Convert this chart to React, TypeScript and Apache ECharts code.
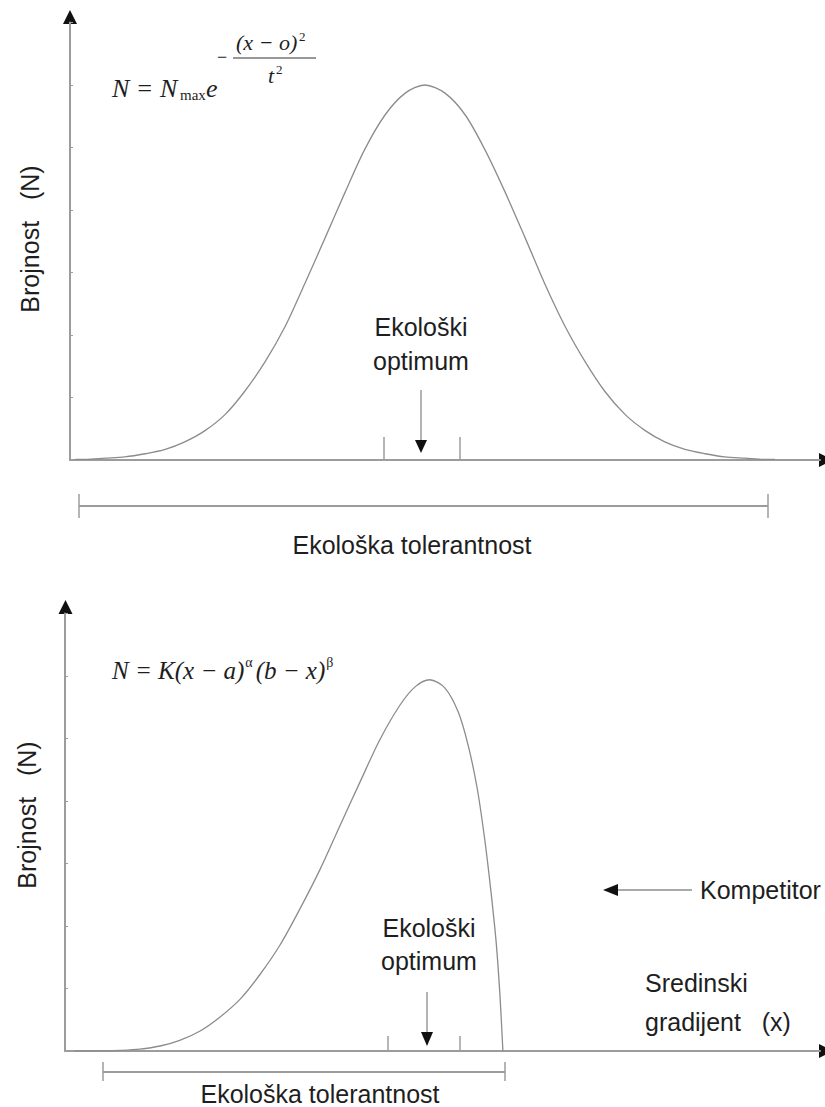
import React, { useEffect, useRef } from "react";
import * as echarts from "echarts";

// Top panel: Gaussian response along the gradient (x in gradient units, N in tick units)
const gradTop = [0.07, 0.2, 0.47, 0.73, 1.0, 1.27, 1.53, 1.8, 2.07, 2.33, 2.6, 2.87, 3.13, 3.4, 3.67, 3.93, 4.2, 4.47, 4.73, 5.0, 5.27, 5.53, 5.8, 6.07, 6.33, 6.6, 6.87, 7.13, 7.4, 7.67, 7.93, 8.2, 8.47, 8.73, 9.0, 9.27, 9.4];
const abundTop = [0.01, 0.01, 0.03, 0.05, 0.1, 0.17, 0.29, 0.47, 0.73, 1.1, 1.57, 2.14, 2.82, 3.55, 4.29, 4.97, 5.52, 5.87, 6.0, 5.87, 5.52, 4.97, 4.29, 3.55, 2.82, 2.14, 1.57, 1.1, 0.73, 0.47, 0.29, 0.17, 0.1, 0.05, 0.03, 0.01, 0.01];

// Bottom panel: skewed response truncated by the competitor
const gradBottom = [0.13, 0.2, 0.46, 0.73, 0.99, 1.26, 1.52, 1.79, 2.05, 2.32, 2.58, 2.85, 3.11, 3.38, 3.64, 3.91, 4.17, 4.44, 4.64, 4.83, 5.03, 5.21, 5.34, 5.46, 5.56, 5.64, 5.71, 5.76, 5.8];
const abundBottom = [0, 0, 0, 0.01, 0.03, 0.08, 0.17, 0.32, 0.54, 0.83, 1.22, 1.7, 2.27, 2.91, 3.6, 4.31, 4.98, 5.54, 5.83, 5.94, 5.81, 5.42, 4.89, 4.2, 3.38, 2.57, 1.75, 0.91, 0];

const yAxisMax = 7;
const xAxisMax = 10;

const yLabel = "Brojnost   (N)";
const optimumLines = ["Ekološki", "optimum"];
const toleranceLabel = "Ekološka tolerantnost";
const competitorLabel = "Kompetitor";
const gradientLines = ["Sredinski", "gradijent   (x)"];

export default function App() {
  const ref = useRef<HTMLDivElement>(null);
  useEffect(() => {
    const chart = echarts.init(ref.current!, null, { renderer: "svg" });
    const axisColor = "#9c9c9c";
    const curveColor = "#8c8c8c";
    const ink = "#1e1e1e";
    const sans = "'Liberation Sans', Arial, Helvetica, sans-serif";
    const serif = "'Liberation Serif', 'Times New Roman', serif";

    const line = (x1: number, y1: number, x2: number, y2: number, color = axisColor, w = 1.5) => ({
      type: "line",
      shape: { x1, y1, x2, y2 },
      style: { stroke: color, lineWidth: w },
      silent: true,
    });
    const tri = (pts: number[][]) => ({
      type: "polygon",
      shape: { points: pts },
      style: { fill: "#111" },
      silent: true,
    });
    const txt = (text: string, x: number, y: number, opts: any = {}) => ({
      type: "text",
      x,
      y,
      rotation: opts.rotation || 0,
      style: {
        text,
        fill: ink,
        font: opts.font || `25px ${sans}`,
        align: opts.align || "center",
        verticalAlign: "middle",
        rich: opts.rich,
      },
      silent: true,
    });

    const xAxisBase = {
      type: "value",
      min: 0,
      max: xAxisMax,
      axisLine: { show: true, onZero: false, lineStyle: { color: axisColor, width: 2 } },
      axisTick: { show: false },
      axisLabel: { show: false },
      splitLine: { show: false },
    };
    const yAxisBase = {
      type: "value",
      min: 0,
      max: yAxisMax,
      interval: 1,
      axisLine: { show: true, onZero: false, lineStyle: { color: axisColor, width: 2 } },
      axisTick: { show: true, inside: true, length: 3, lineStyle: { color: axisColor, width: 1 } },
      axisLabel: { show: false },
      splitLine: { show: false },
    };

    chart.setOption({
      animation: false,
      backgroundColor: "#ffffff",
      grid: [
        { left: 70, top: 22.5, width: 750, height: 437.5 },
        { left: 65, top: 613.5, width: 755, height: 437.5 },
      ],
      xAxis: [
        { ...xAxisBase, gridIndex: 0 },
        { ...xAxisBase, gridIndex: 1 },
      ],
      yAxis: [
        { ...yAxisBase, gridIndex: 0 },
        { ...yAxisBase, gridIndex: 1 },
      ],
      series: [
        {
          type: "line",
          xAxisIndex: 0,
          yAxisIndex: 0,
          data: gradTop.map((g, i) => [g, abundTop[i]]),
          smooth: 0.3,
          showSymbol: false,
          lineStyle: { color: curveColor, width: 1.3 },
          silent: true,
        },
        {
          type: "line",
          xAxisIndex: 1,
          yAxisIndex: 1,
          data: gradBottom.map((g, i) => [g, abundBottom[i]]),
          smooth: 0.3,
          showSymbol: false,
          lineStyle: { color: curveColor, width: 1.3 },
          silent: true,
        },
      ],
      graphic: [
        // axis arrowheads
        tri([[63, 24], [77, 24], [70, 10]]),
        tri([[819, 453], [819, 467], [833, 460]]),
        tri([[58.5, 614], [72.5, 614], [65.5, 600]]),
        tri([[819, 1044], [819, 1058], [833, 1051]]),

        // top: optimum markers
        line(384, 437, 384, 460),
        line(460, 437, 460, 460),
        line(421, 390, 421, 442, "#8c8c8c", 1.3),
        tri([[415, 440], [427, 440], [421, 453]]),
        txt(optimumLines[0], 421, 327),
        txt(optimumLines[1], 421, 361),

        // top: tolerance bracket
        line(79, 506, 768, 506, axisColor, 2),
        line(79, 494, 79, 518),
        line(768, 494, 768, 518),
        txt(toleranceLabel, 412, 545),

        // y labels
        txt(yLabel, 29.5, 239, { rotation: Math.PI / 2 }),
        txt(yLabel, 27, 815, { rotation: Math.PI / 2 }),

        // top formula
        txt("N = N", 112, 88, { align: "left", font: `italic 26px ${serif}` }),
        txt("max", 180, 95, { align: "left", font: `15px ${serif}` }),
        txt("e", 206, 88, { align: "left", font: `italic 26px ${serif}` }),
        txt("−", 217, 57, { align: "left", font: `18px ${serif}` }),
        line(233, 58, 316, 58, "#333", 1),
        txt("(x − o)", 236, 42, { align: "left", font: `italic 22px ${serif}` }),
        txt("2", 299, 36, { align: "left", font: `13px ${serif}` }),
        txt("t", 268, 75, { align: "left", font: `italic 22px ${serif}` }),
        txt("2", 276, 69, { align: "left", font: `13px ${serif}` }),

        // bottom formula
        txt("{i|N = K(x − a)}{s|α}{i|(b − x)}{s|β}", 112, 670, {
          align: "left",
          rich: {
            i: { font: `italic 25px ${serif}`, fill: ink, lineHeight: 30 },
            s: { font: `14px ${serif}`, fill: ink, lineHeight: 30, verticalAlign: "top", padding: [0, 3, 0, 1] },
          },
        }),

        // bottom: optimum markers
        line(388, 1036, 388, 1051),
        line(460, 1036, 460, 1051),
        line(427, 992, 427, 1034, "#8c8c8c", 1.3),
        tri([[421, 1032], [433, 1032], [427, 1046]]),
        txt(optimumLines[0], 429, 928),
        txt(optimumLines[1], 429, 961),

        // bottom: tolerance bracket
        line(103, 1072, 505, 1072, axisColor, 2),
        line(103, 1062, 103, 1081),
        line(505, 1062, 505, 1081),
        txt(toleranceLabel, 320, 1094),

        // competitor
        line(615, 890, 692, 890, "#8c8c8c", 1.5),
        tri([[603, 890], [618, 884], [618, 896]]),
        txt(competitorLabel, 700, 890, { align: "left" }),

        // gradient label
        txt(gradientLines[0], 645, 983, { align: "left" }),
        txt(gradientLines[1], 645, 1022, { align: "left" }),
      ],
    });
    return () => chart.dispose();
  }, []);
  return (
    <div
      ref={ref}
      style={{ position: "fixed", left: 0, top: 0, width: 825, height: 1107, background: "#fff" }}
    />
  );
}
